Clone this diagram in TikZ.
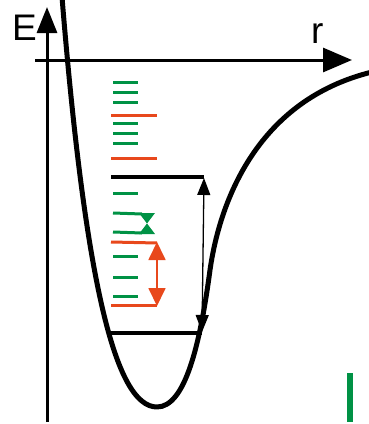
\documentclass[tikz,border=0pt]{standalone}
\usepackage{fontspec}
\setmainfont{Liberation Sans}
\usetikzlibrary{arrows.meta}
\definecolor{lvgreen}{RGB}{0,146,69}
\definecolor{lvred}{RGB}{232,72,28}
\begin{document}
\begin{tikzpicture}[x=1pt,y=-1pt,
  axis/.style={line width=3pt},
  greenlevel/.style={lvgreen, line width=3pt},
  redlevel/.style={lvred, line width=3pt},
  blacklevel/.style={black, line width=4pt},
  lbl/.style={inner sep=0pt, font=\fontsize{37}{40}\selectfont}]
\useasboundingbox (0,0) rectangle (369,424);
% axes
\coordinate (ybot) at (47,422);
\coordinate (ytop) at (47,7);
\coordinate (xl) at (35,60);
\coordinate (xr) at (352,60);
\draw[axis, -{Triangle[length=26pt,width=20pt]}] (ybot) -- (ytop);
\draw[axis, -{Triangle[length=29pt,width=24pt]}] (xl) -- (xr);
\node[lbl, anchor=base west] (E) at (12,40) {E};
\node[lbl, anchor=base west] (r) at (311,43) {r};
% potential curve
\coordinate (c0) at (62,-3);
\coordinate (cmin) at (157,407);
\coordinate (cmid) at (210,270);
\coordinate (cend) at (372,72);
\draw[line width=5pt, line join=round]
  (c0) .. controls (85,280) and (115,407) .. (cmin)
       .. controls (185,407) and (200,345) .. (cmid)
       .. controls (220,200) and (258,100) .. (cend);
% green levels
\foreach \yy in {82,92,102,123,133,143,193,256,277,296}
  \draw[greenlevel] (113,\yy) -- (138,\yy);
\draw[greenlevel] (113,213) -- (142,214);
\draw[greenlevel] (113,232) -- (142,233);
\fill[lvgreen] (139,213) -- (155,213) -- (147,223.5) -- (155,234) -- (139,234) -- (147,223.5) -- cycle;
% red levels
\foreach \yy in {115,158}
  \draw[redlevel] (111,\yy) -- (157,\yy);
\coordinate (ra) at (157,243);
\coordinate (rb) at (157,305);
\draw[redlevel] (111,242) -- (ra);
\draw[redlevel] (111,305) -- (rb);
\draw[lvred, line width=1.8pt, {Triangle[length=18pt,width=17pt]}-{Triangle[length=18pt,width=17pt]}] ([yshift=1pt]ra) -- ([yshift=-1pt]rb);
% black levels
\coordinate (ba) at (204,178);
\coordinate (bb) at (202,332);
\draw[blacklevel] (111,177) -- (204,177);
\draw[blacklevel] (111,333) -- (202,333);
\draw[line width=1.3pt, {Triangle[length=17pt,width=13pt]}-{Triangle[length=17pt,width=13pt]}] (ba) -- (bb);
% green bar
\fill[lvgreen] (347,373) rectangle (353,422);
\end{tikzpicture}
\end{document}
